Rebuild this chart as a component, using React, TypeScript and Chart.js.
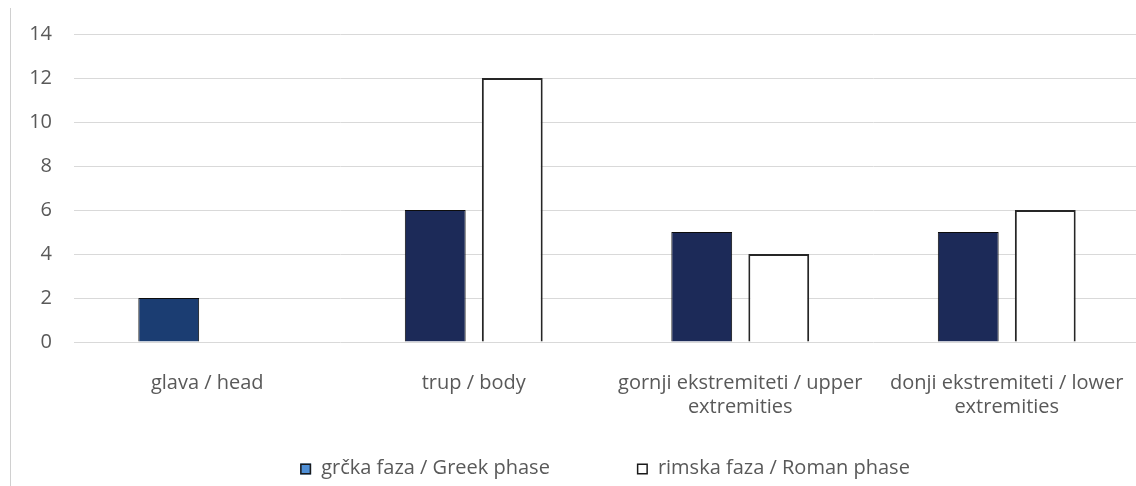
import React, { useEffect, useRef } from "react";
import { Chart, registerables } from "chart.js";

Chart.register(...registerables);

// ---- data ----
const categories: (string | string[])[] = [
  "glava / head",
  "trup / body",
  ["gornji ekstremiteti / upper", "extremities"],
  ["donji ekstremiteti / lower", "extremities"],
];
const greekPhase = [2, 6, 5, 5];
const romanPhase = [0, 12, 4, 6];
const seriesNames = ["grčka faza / Greek phase", "rimska faza / Roman phase"];
const yMin = 0;
const yMax = 14;
const yStep = 2;

// ---- styles ----
const FONT = '"Open Sans", sans-serif';
const TEXT = "#595959";
const GRID = "#d9d9d9";
const greekBarColors = ["#1b3d72", "#1c2a58", "#1c2a58", "#1c2a58"];
const legendFills = ["#4f8fd6", "#ffffff"];
const legendStrokes = ["#1a1a1a", "#1a1a1a"];

const legendPlugin = {
  id: "customLegend",
  afterDraw(chart: any) {
    const ctx = chart.ctx as CanvasRenderingContext2D;
    const fontSize = 20;
    const box = 11;
    const textGap = 10;
    const itemGap = 87;
    const cy = 469;
    ctx.save();
    ctx.font = `${fontSize}px ${FONT}`;
    const items = chart.data.datasets.map((ds: any, i: number) => ({
      text: ds.label as string,
      fill: legendFills[i],
      stroke: legendStrokes[i],
    }));
    const widths = items.map((it: any) => ctx.measureText(it.text).width);
    const total =
      widths.reduce((a: number, w: number) => a + box + textGap + w, 0) +
      itemGap * (items.length - 1);
    let x = chart.width / 2 - total / 2;
    items.forEach((it: any, i: number) => {
      ctx.fillStyle = it.fill;
      ctx.fillRect(x, cy - box / 2, box, box);
      ctx.strokeStyle = it.stroke;
      ctx.lineWidth = 1.5;
      ctx.strokeRect(x + 0.75, cy - box / 2 + 0.75, box - 1.5, box - 1.5);
      ctx.fillStyle = TEXT;
      ctx.textAlign = "left";
      ctx.textBaseline = "middle";
      ctx.fillText(it.text, x + box + textGap, cy - 1);
      x += box + textGap + widths[i] + itemGap;
    });
    ctx.restore();
  },
};

export default function App() {
  const canvasRef = useRef<HTMLCanvasElement | null>(null);

  useEffect(() => {
    if (!canvasRef.current) return;
    const chart = new Chart(canvasRef.current, {
      type: "bar",
      data: {
        labels: categories,
        datasets: [
          {
            label: seriesNames[0],
            data: greekPhase,
            backgroundColor: greekBarColors,
            borderColor: "#0d0d0d",
            borderWidth: 1,
            categoryPercentage: 0.578,
            barPercentage: 0.79,
          },
          {
            label: seriesNames[1],
            data: romanPhase,
            backgroundColor: "#ffffff",
            borderColor: "#262626",
            borderWidth: 2,
            categoryPercentage: 0.578,
            barPercentage: 0.79,
          },
        ],
      },
      options: {
        animation: false,
        responsive: true,
        maintainAspectRatio: false,
        layout: { padding: { top: 33, right: 70, bottom: 0, left: 0 } },
        plugins: {
          legend: { display: false },
          tooltip: { enabled: false },
        },
        scales: {
          x: {
            grid: { display: false },
            border: { display: false },
            ticks: {
              color: TEXT,
              font: { family: FONT, size: 20, lineHeight: 1.2 },
              padding: 21,
              maxRotation: 0,
              autoSkip: false,
            },
            afterFit: (s: any) => {
              s.height = 144;
            },
          },
          y: {
            min: yMin,
            max: yMax,
            ticks: {
              stepSize: yStep,
              color: TEXT,
              font: { family: FONT, size: 20 },
              padding: 22,
            },
            grid: { color: GRID, lineWidth: 1, drawTicks: false },
            border: { display: false },
            afterFit: (s: any) => {
              s.width = 74;
            },
          },
        },
      },
      plugins: [legendPlugin],
    });
    return () => chart.destroy();
  }, []);

  return (
    <div
      style={{
        position: "fixed",
        left: 0,
        top: 0,
        width: 1136,
        height: 486,
        overflow: "hidden",
        background: "#ffffff",
      }}
    >
      <div style={{ position: "absolute", left: 0, top: 0, width: 1210, height: 486 }}>
        <canvas ref={canvasRef} />
      </div>
      <div
        style={{
          position: "absolute",
          left: 10,
          top: 8,
          width: 1,
          height: 478,
          background: "#d0d0d0",
        }}
      />
    </div>
  );
}
